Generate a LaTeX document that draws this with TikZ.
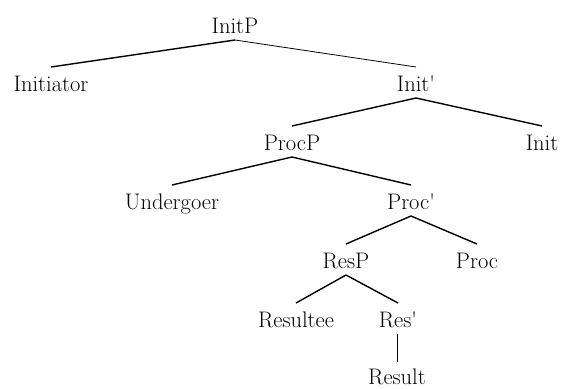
\documentclass[tikz,border=0pt]{standalone}
\usepackage{fontspec}
\usepackage{tikz}
\pgfdeclarelayer{nodelayer}
\pgfdeclarelayer{edgelayer}
\pgfsetlayers{edgelayer,nodelayer,main}
\tikzstyle{cat}=[anchor=base, inner sep=0pt, font=\fontsize{22.5}{27}\selectfont]
\tikzstyle{branch}=[line width=1.4pt]
\tikzstyle{thin branch}=[line width=0.8pt]
\tikzstyle{up}=[yshift=-7pt]
\tikzstyle{down}=[yshift=24pt]

\begin{document}
\begin{tikzpicture}[x=1pt, y=-1pt]
    	\useasboundingbox (0, 0) rectangle (561, 388);
    	\begin{pgfonlayer}{nodelayer}
    		\node [style=cat] (initp) at (235, 33) {InitP};
    		\node [style=cat] (initiator) at (51, 91) {Initiator};
    		\node [style=cat] (initbar) at (416, 91) {Init\textquotesingle};
    		\node [style=cat] (procp) at (292, 150) {ProcP};
    		\node [style=cat] (init) at (542, 150) {Init};
    		\node [style=cat] (undergoer) at (172, 209) {Undergoer};
    		\node [style=cat] (procbar) at (411, 209) {Proc\textquotesingle};
    		\node [style=cat] (resp) at (346, 268) {ResP};
    		\node [style=cat] (proc) at (477, 268) {Proc};
    		\node [style=cat] (resultee) at (296, 327) {Resultee};
    		\node [style=cat] (resbar) at (398, 327) {Res\textquotesingle};
    		\node [style=cat] (result) at (397, 384) {Result};
    	\end{pgfonlayer}
    	\begin{pgfonlayer}{edgelayer}
    		\draw [style=branch] ([style=up]initp.base) to ([style=down]initiator.base);
    		\draw [style=thin branch] ([style=up]initp.base) to ([style=down]initbar.base);
    		\draw [style=branch] ([style=up]initbar.base) to ([style=down]procp.base);
    		\draw [style=branch] ([style=up]initbar.base) to ([style=down]init.base);
    		\draw [style=branch] ([style=up]procp.base) to ([style=down]undergoer.base);
    		\draw [style=branch] ([style=up]procp.base) to ([style=down]procbar.base);
    		\draw [style=branch] ([style=up]procbar.base) to ([style=down]resp.base);
    		\draw [style=branch] ([style=up]procbar.base) to ([style=down]proc.base);
    		\draw [style=branch] ([style=up]resp.base) to ([style=down]resultee.base);
    		\draw [style=branch] ([style=up]resp.base) to ([style=down]resbar.base);
    		\draw [style=thin branch] ([style=up,xshift=-1pt]resbar.base) to ([yshift=22pt]result.base);
    	\end{pgfonlayer}
    \end{tikzpicture}
\end{document}
